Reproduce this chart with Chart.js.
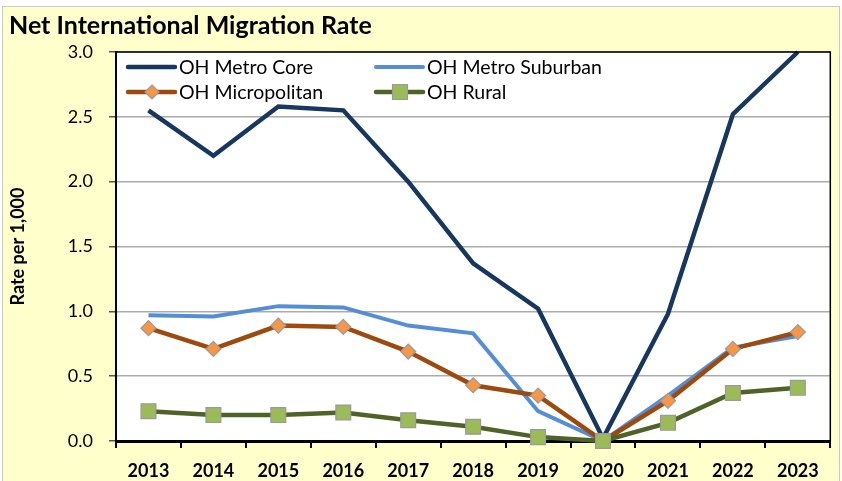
<!DOCTYPE html>
<html>
<head>
<meta charset="utf-8">
<script src="https://cdn.jsdelivr.net/npm/chart.js@4/dist/chart.umd.min.js"></script>
<style>
  html,body{margin:0;padding:0;background:#fff}
  #wrap{width:842px;height:481px;position:relative}
</style>
</head>
<body>
<div id="wrap"><canvas id="chart" width="842" height="481"></canvas></div>
<script>
// Net International Migration Rate, Ohio county groups
const years = ['2013','2014','2015','2016','2017','2018','2019','2020','2021','2022','2023'];
const metroCore     = [2.55, 2.20, 2.58, 2.55, 2.00, 1.37, 1.02, 0.02, 0.98, 2.52, 3.00];
const metroSuburban = [0.97, 0.96, 1.04, 1.03, 0.89, 0.83, 0.23, 0.00, 0.35, 0.72, 0.81];
const micropolitan  = [0.87, 0.71, 0.89, 0.88, 0.69, 0.43, 0.35, 0.00, 0.31, 0.71, 0.84];
const rural         = [0.23, 0.20, 0.20, 0.22, 0.16, 0.11, 0.03, 0.00, 0.14, 0.37, 0.41];
const yTicks = [0, 0.5, 1.0, 1.5, 2.0, 2.5, 3.0];

const FONT = 'Lato, "Open Sans", sans-serif';

const series = [
  {label:'OH Metro Core',     data:metroCore,     color:'#17375E', width:4.5, marker:false,     fill:null,      order:4},
  {label:'OH Metro Suburban', data:metroSuburban, color:'#558ED5', width:4,   marker:false,     fill:null,      order:3},
  {label:'OH Micropolitan',   data:micropolitan,  color:'#9C4A0E', width:4.5, marker:'rectRot', fill:'#F79646', order:2},
  {label:'OH Rural',          data:rural,         color:'#4F6228', width:4.5, marker:'rect',    fill:'#9BBB59', order:1}
];

// background, frame and title
const frame = {
  id:'frame',
  beforeDraw(chart){
    const c = chart.ctx;
    c.save();
    c.fillStyle = '#fff';
    c.fillRect(0,0,chart.width,chart.height);
    c.fillStyle = '#FFFFCC';
    c.fillRect(2,6,838,475);
    c.strokeStyle = '#c8c8c8';
    c.lineWidth = 1;
    c.strokeRect(2.5,6.5,837,480);
    const a = chart.chartArea;
    c.fillStyle = '#fff';
    c.fillRect(a.left,a.top,a.right-a.left,a.bottom-a.top);
    c.fillStyle = '#000';
    c.font = 'bold 25px ' + FONT;
    c.textBaseline = 'middle';
    c.fillText('Net International Migration Rate', 9, 26);
    c.restore();
  },
  afterDraw(chart){
    const c = chart.ctx, a = chart.chartArea;
    c.save();
    c.strokeStyle = '#000';
    c.lineWidth = 1.5;
    c.beginPath();
    c.moveTo(a.left, a.top); c.lineTo(a.right, a.top); c.lineTo(a.right, a.bottom);
    c.stroke();
    c.restore();
  }
};

// legend drawn inside the plot area, two columns
const innerLegend = {
  id:'innerLegend',
  beforeDatasetsDraw(chart){
    const c = chart.ctx;
    const cols = [128, 376], rows = [67, 92];
    c.save();
    c.font = '19.5px ' + FONT;
    c.textBaseline = 'middle';
    series.forEach((s,i)=>{
      const x = cols[i % 2], y = rows[Math.floor(i / 2)];
      c.strokeStyle = s.color;
      c.lineWidth = s.width;
      c.lineCap = 'round';
      c.beginPath(); c.moveTo(x, y); c.lineTo(x + 47, y); c.stroke();
      if (s.marker) {
        c.fillStyle = s.fill; c.strokeStyle = '#9a9a9a'; c.lineWidth = 1.2;
        c.beginPath();
        if (s.marker === 'rect') { c.rect(x + 24 - 7.5, y - 7.5, 15, 15); }
        else { c.moveTo(x+24, y-7); c.lineTo(x+31, y); c.lineTo(x+24, y+7); c.lineTo(x+17, y); c.closePath(); }
        c.fill(); c.stroke();
      }
      c.fillStyle = '#000';
      c.fillText(s.label, x + 51, y + 1);
    });
    c.restore();
  }
};

new Chart(document.getElementById('chart'), {
  type:'line',
  data:{
    labels: years,
    datasets: series.map(s=>({
      label: s.label,
      data: s.data,
      borderColor: s.color,
      backgroundColor: s.fill || s.color,
      borderWidth: s.width,
      tension: 0,
      order: s.order,
      pointStyle: s.marker || 'circle',
      pointRadius: s.marker === 'rect' ? 10.5 : (s.marker ? 7.5 : 0),
      pointBackgroundColor: s.fill || s.color,
      pointBorderColor: '#9a9a9a',
      pointBorderWidth: 1.2,
      clip: 12
    }))
  },
  options:{
    responsive:false,
    animation:false,
    layout:{padding:{top:52, right:5, left:4, bottom:0}},
    plugins:{legend:{display:false}, title:{display:false}, tooltip:{enabled:false}},
    scales:{
      x:{
        offset:true,
        grid:{offset:true, drawOnChartArea:false, drawTicks:true, tickLength:7, color:'#000', lineWidth:2},
        border:{color:'#000', width:3},
        ticks:{color:'#000', font:{family:FONT, size:18, weight:'bold'}, padding:12, maxRotation:0},
        afterFit(scale){ scale.height = 40; }
      },
      y:{
        min:0, max:3,
        afterBuildTicks(scale){ scale.ticks = yTicks.map(v=>({value:v})); },
        grid:{color:'#ababab', lineWidth:1.5, tickLength:7, tickColor:'#555', drawTicks:true},
        border:{color:'#000', width:2},
        ticks:{color:'#000', font:{family:FONT, size:18}, padding:16, callback:v=>v.toFixed(1)},
        title:{display:true, text:'Rate per 1,000', color:'#000', font:{family:FONT, size:18, weight:'bold'}, padding:{top:3, bottom:0}},
        afterFit(scale){ scale.width = 112; }
      }
    }
  },
  plugins:[frame, innerLegend]
});
</script>
</body>
</html>
